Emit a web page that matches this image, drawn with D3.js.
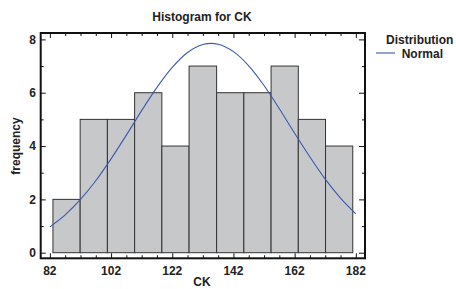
<!DOCTYPE html>
<html><head><meta charset="utf-8">
<script src="https://cdn.jsdelivr.net/npm/d3@7"></script>
<style>body{margin:0;background:#fff}svg{display:block}text{font-family:"Liberation Sans",Arial,sans-serif;font-weight:bold;fill:#222}</style>
</head><body><script>
const title = "Histogram for CK";
const xTitle = "CK";
const yTitle = "frequency";
const binEdges = [83, 91.9, 100.8, 109.7, 118.6, 127.5, 136.5, 145.4, 154.3, 163.2, 172.1, 181];
const counts = [2, 5, 5, 6, 4, 7, 6, 6, 7, 5, 4];
const curveX = [82, 87, 92, 97, 102, 107, 112, 117, 122, 127, 132, 134.7, 137, 142, 147, 152, 157, 162, 167, 172, 177, 182];
const curveY = [0.97, 1.42, 2.00, 2.70, 3.52, 4.41, 5.33, 6.20, 6.95, 7.51, 7.81, 7.85, 7.82, 7.54, 7.01, 6.27, 5.40, 4.48, 3.59, 2.76, 2.05, 1.46];
const xTickLabels = [82, 102, 122, 142, 162, 182];
const yTickLabels = [0, 2, 4, 6, 8];
const legendTitle = "Distribution";
const legendItems = ["Normal"];

const W = 456, H = 289;
const svg = d3.select("body").append("svg").attr("width", W).attr("height", H);
const L = 40.7, R = 365, T = 33, B = 258.3;
const x = d3.scaleLinear().domain([79, 185]).range([L, R]);
const y = d3.scaleLinear().domain([-0.21, 8.24]).range([B, T]);

// bars
svg.append("g").selectAll("rect").data(counts).join("rect")
  .attr("x", (d, i) => x(binEdges[i]))
  .attr("width", (d, i) => x(binEdges[i + 1]) - x(binEdges[i]))
  .attr("y", d => y(d))
  .attr("height", d => y(0) - y(d))
  .attr("fill", "#c7c8ca").attr("stroke", "#333").attr("stroke-width", 1);

// curve
const pts = curveX.map((v, i) => [v, curveY[i]]);
svg.append("path").datum(pts)
  .attr("d", d3.line().x(d => x(d[0])).y(d => y(d[1])).curve(d3.curveMonotoneX))
  .attr("fill", "none").attr("stroke", "#3a5aae").attr("stroke-width", 1.1);

// axes (ticks inward)
const xMinor = d3.range(82, 185, 5);
const yMinor = d3.range(0, 9, 1);
function isMajorX(v) { return xTickLabels.includes(v); }
function isMajorY(v) { return yTickLabels.includes(v); }

const bx = svg.append("g").attr("transform", `translate(0,${B})`)
  .call(d3.axisBottom(x).tickValues(xMinor).tickSize(0).tickFormat(""));
const tx = svg.append("g").attr("transform", `translate(0,${T})`)
  .call(d3.axisTop(x).tickValues(xMinor).tickSize(0).tickFormat(""));
const ly = svg.append("g").attr("transform", `translate(${L},0)`)
  .call(d3.axisLeft(y).tickValues(yMinor).tickSize(0).tickFormat(""));
const ry = svg.append("g").attr("transform", `translate(${R},0)`)
  .call(d3.axisRight(y).tickValues(yMinor).tickSize(0).tickFormat(""));
[bx, tx, ly, ry].forEach(g => g.select(".domain").remove());
bx.selectAll(".tick line").attr("y2", d => isMajorX(d) ? -5 : -3).attr("stroke", "#111");
tx.selectAll(".tick line").attr("y2", d => isMajorX(d) ? 5 : 3).attr("stroke", "#111");
ly.selectAll(".tick line").attr("x2", d => isMajorY(d) ? 5 : 3).attr("stroke", "#111");
ry.selectAll(".tick line").attr("x2", d => isMajorY(d) ? -6 : -3).attr("stroke", "#111");

svg.append("rect").attr("x", L).attr("y", T).attr("width", R - L).attr("height", B - T)
  .attr("fill", "none").attr("stroke", "#111").attr("stroke-width", 2);

// tick labels
svg.append("g").selectAll("text").data(xTickLabels).join("text")
  .attr("x", d => x(d)).attr("y", 275).attr("text-anchor", "middle")
  .attr("font-size", 12).text(d => d);
svg.append("g").selectAll("text").data(yTickLabels).join("text")
  .attr("x", 36).attr("y", d => y(d) + 4.3).attr("text-anchor", "end")
  .attr("font-size", 12).text(d => d);

// titles
svg.append("text").attr("x", 202).attr("y", 21).attr("text-anchor", "middle")
  .attr("font-size", 12).text(title);
svg.append("text").attr("x", 202).attr("y", 286).attr("text-anchor", "middle")
  .attr("font-size", 12).text(xTitle);
svg.append("text").attr("transform", "translate(20,146) rotate(-90)").attr("text-anchor", "middle")
  .attr("font-size", 12).text(yTitle);

// legend
svg.append("text").attr("x", 386).attr("y", 43.5).attr("font-size", 12).text(legendTitle);
legendItems.forEach((t, i) => {
  svg.append("line").attr("x1", 376).attr("x2", 395).attr("y1", 53 + i * 14).attr("y2", 53 + i * 14)
    .attr("stroke", "#3a5aae").attr("stroke-width", 1.1);
  svg.append("text").attr("x", 401.7).attr("y", 57.5 + i * 14).attr("font-size", 12).text(t);
});
</script></body></html>
